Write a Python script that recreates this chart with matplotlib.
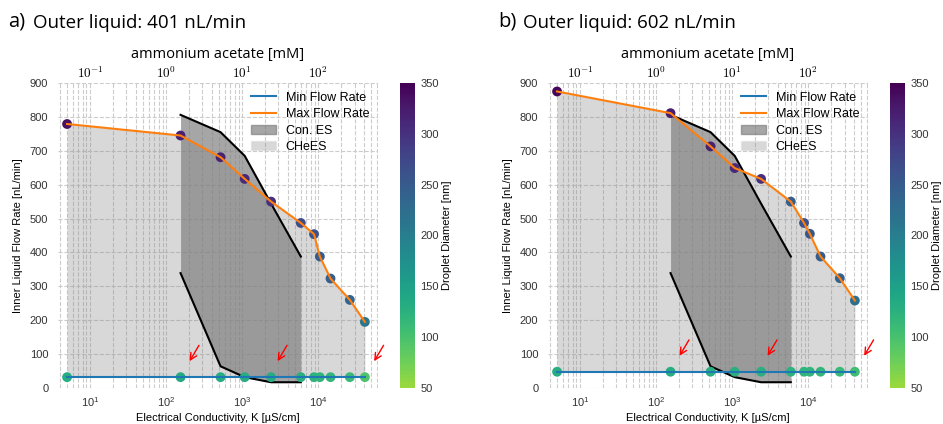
import matplotlib
matplotlib.use("Agg")
import numpy as np
import matplotlib.pyplot as plt
from matplotlib.colors import ListedColormap
from matplotlib.lines import Line2D
from matplotlib.patches import Patch
from matplotlib.ticker import NullFormatter

# electrical conductivity of the inner liquid [uS/cm]
conductivity = [5, 155, 520, 1080, 2400, 5900, 8800, 10500, 14500, 26000, 41000]

# outer liquid 401 nL/min
max_flow_401 = [779, 745, 681, 617, 550, 487, 454, 388, 323, 260, 195]
min_flow_401 = [32, 32, 32, 32, 32, 32, 32, 32, 32, 32, 32]
diam_max_401 = [335, 318, 315, 310, 300, 268, 262, 250, 245, 238, 212]
diam_min_401 = [132, 135, 132, 130, 130, 126, 122, 120, 116, 112, 96]

# outer liquid 602 nL/min
max_flow_602 = [875, 811, 713, 649, 617, 550, 487, 455, 388, 324, 258]
min_flow_602 = [48, 48, 48, 48, 48, 48, 48, 48, 48, 48, 48]
diam_max_602 = [345, 322, 318, 308, 302, 245, 262, 255, 246, 242, 222]
diam_min_602 = [132, 132, 128, 126, 126, 122, 120, 120, 116, 112, 106]

# cone-jet (Con. ES) stability window
ces_x = [155, 520, 1080, 2400, 5900]
ces_upper = [806, 755, 685, 544, 388]
ces_lower = [339, 64, 32, 17, 17]

# red arrows, x position of the tip
arrow_x = [195, 2800, 52000]

plt.rcParams["font.family"] = ["Liberation Sans", "DejaVu Sans"]
plt.rcParams["font.size"] = 8

cmap = ListedColormap(plt.cm.viridis(np.linspace(0.85, 0.0, 256)))

fig = plt.figure(figsize=(9.43, 4.24), dpi=100)

panels = [
    ("a)", "Outer liquid: 401 nL/min", max_flow_401, min_flow_401, diam_max_401, diam_min_401),
    ("b)", "Outer liquid: 602 nL/min", max_flow_602, min_flow_602, diam_max_602, diam_min_602),
]
x0s = [58, 548]

for (tag, title, fmax, fmin, dmax, dmin), x0 in zip(panels, x0s):
    ax = fig.add_axes([x0 / 943, 1 - 388 / 424, 320 / 943, 305 / 424])
    cax = fig.add_axes([(x0 + 342) / 943, 1 - 388 / 424, 15 / 943, 305 / 424])

    ax.fill_between(conductivity, fmin, fmax, color="gray", alpha=0.3, lw=0, zorder=1)
    ax.fill_between(ces_x, ces_lower, ces_upper, color="gray", alpha=0.7, lw=0, zorder=2)
    ax.plot(ces_x, ces_upper, color="black", lw=1.5, zorder=3)
    ax.plot(ces_x, ces_lower, color="black", lw=1.5, zorder=3)

    vals = dmax + dmin
    sc = ax.scatter(conductivity + conductivity, fmax + fmin, c=vals, cmap=cmap,
                    vmin=50, vmax=350, s=50, zorder=4, linewidths=0)
    ax.plot(conductivity, fmin, color="tab:blue", lw=1.5, zorder=5)
    ax.plot(conductivity, fmax, color="tab:orange", lw=1.5, zorder=5)

    for xa in arrow_x:
        ax.annotate("", xy=(xa, fmin[0] + 40), xytext=(xa * 1.45, fmin[0] + 101),
                    arrowprops=dict(arrowstyle="->", color="red", lw=1, mutation_scale=12),
                    annotation_clip=False, zorder=6)

    ax.set_xscale("log")
    ax.set_xlim(3.8, 61000)
    ax.set_ylim(0, 900)
    ax.set_yticks(range(0, 1000, 100))
    for s in ax.spines.values():
        s.set_visible(False)
    ax.grid(True, which="major", ls="--", color="#cccccc", lw=0.8, zorder=0)
    ax.grid(True, which="minor", axis="x", ls="--", color="#cccccc", lw=0.8, zorder=0)
    ax.set_axisbelow(True)
    ax.tick_params(which="both", length=0, labelsize=8, colors="#333333")
    ax.tick_params(axis="y", pad=7)
    ax.tick_params(axis="x", pad=5)
    ax.set_xlabel("Electrical Conductivity, K [µS/cm]", fontsize=8, labelpad=3)
    ax.set_ylabel("Inner Liquid Flow Rate [nL/min]", fontsize=8, labelpad=5)

    sec = ax.secondary_xaxis("top", functions=(lambda k: k / 100, lambda c: c * 100))
    sec.set_xticks([0.1, 1, 10, 100],
                   labels=[r"$\mathbf{10^{-1}}$", r"$\mathbf{10^{0}}$",
                           r"$\mathbf{10^{1}}$", r"$\mathbf{10^{2}}$"])
    sec.xaxis.set_minor_formatter(NullFormatter())
    sec.tick_params(which="both", length=0, pad=1.5, labelsize=9.5)
    for lab in sec.get_xticklabels():
        lab.set_math_fontfamily("cm")
    for s in sec.spines.values():
        s.set_visible(False)
    sec.set_xlabel("ammonium acetate [mM]", fontsize=10.5, family="Open Sans", labelpad=5)

    handles = [
        Line2D([], [], color="tab:blue", lw=1.5),
        Line2D([], [], color="tab:orange", lw=1.5),
        Patch(facecolor="gray", alpha=0.7, edgecolor="gray"),
        Patch(facecolor="gray", alpha=0.3, edgecolor="lightgray"),
    ]
    ax.legend(handles, ["Min Flow Rate", "Max Flow Rate", "Con. ES", "CHeES"],
              loc="upper right", frameon=False, fontsize=9, labelspacing=0.35,
              borderaxespad=0.3)

    cb = fig.colorbar(sc, cax=cax, ticks=range(50, 400, 50))
    cb.outline.set_visible(False)
    cb.ax.tick_params(length=0, pad=4, labelsize=8, colors="#333333")
    cb.set_label("Droplet Diameter [nm]", fontsize=8, labelpad=2)

    fig.text((x0 - 50) / 943, 1 - 26 / 424, tag, fontsize=14.5, family="Open Sans", va="baseline")
    fig.text((x0 - 25) / 943, 1 - 28 / 424, title, fontsize=13.5, family="Open Sans", va="baseline")

fig.savefig("out.png", dpi=100)
